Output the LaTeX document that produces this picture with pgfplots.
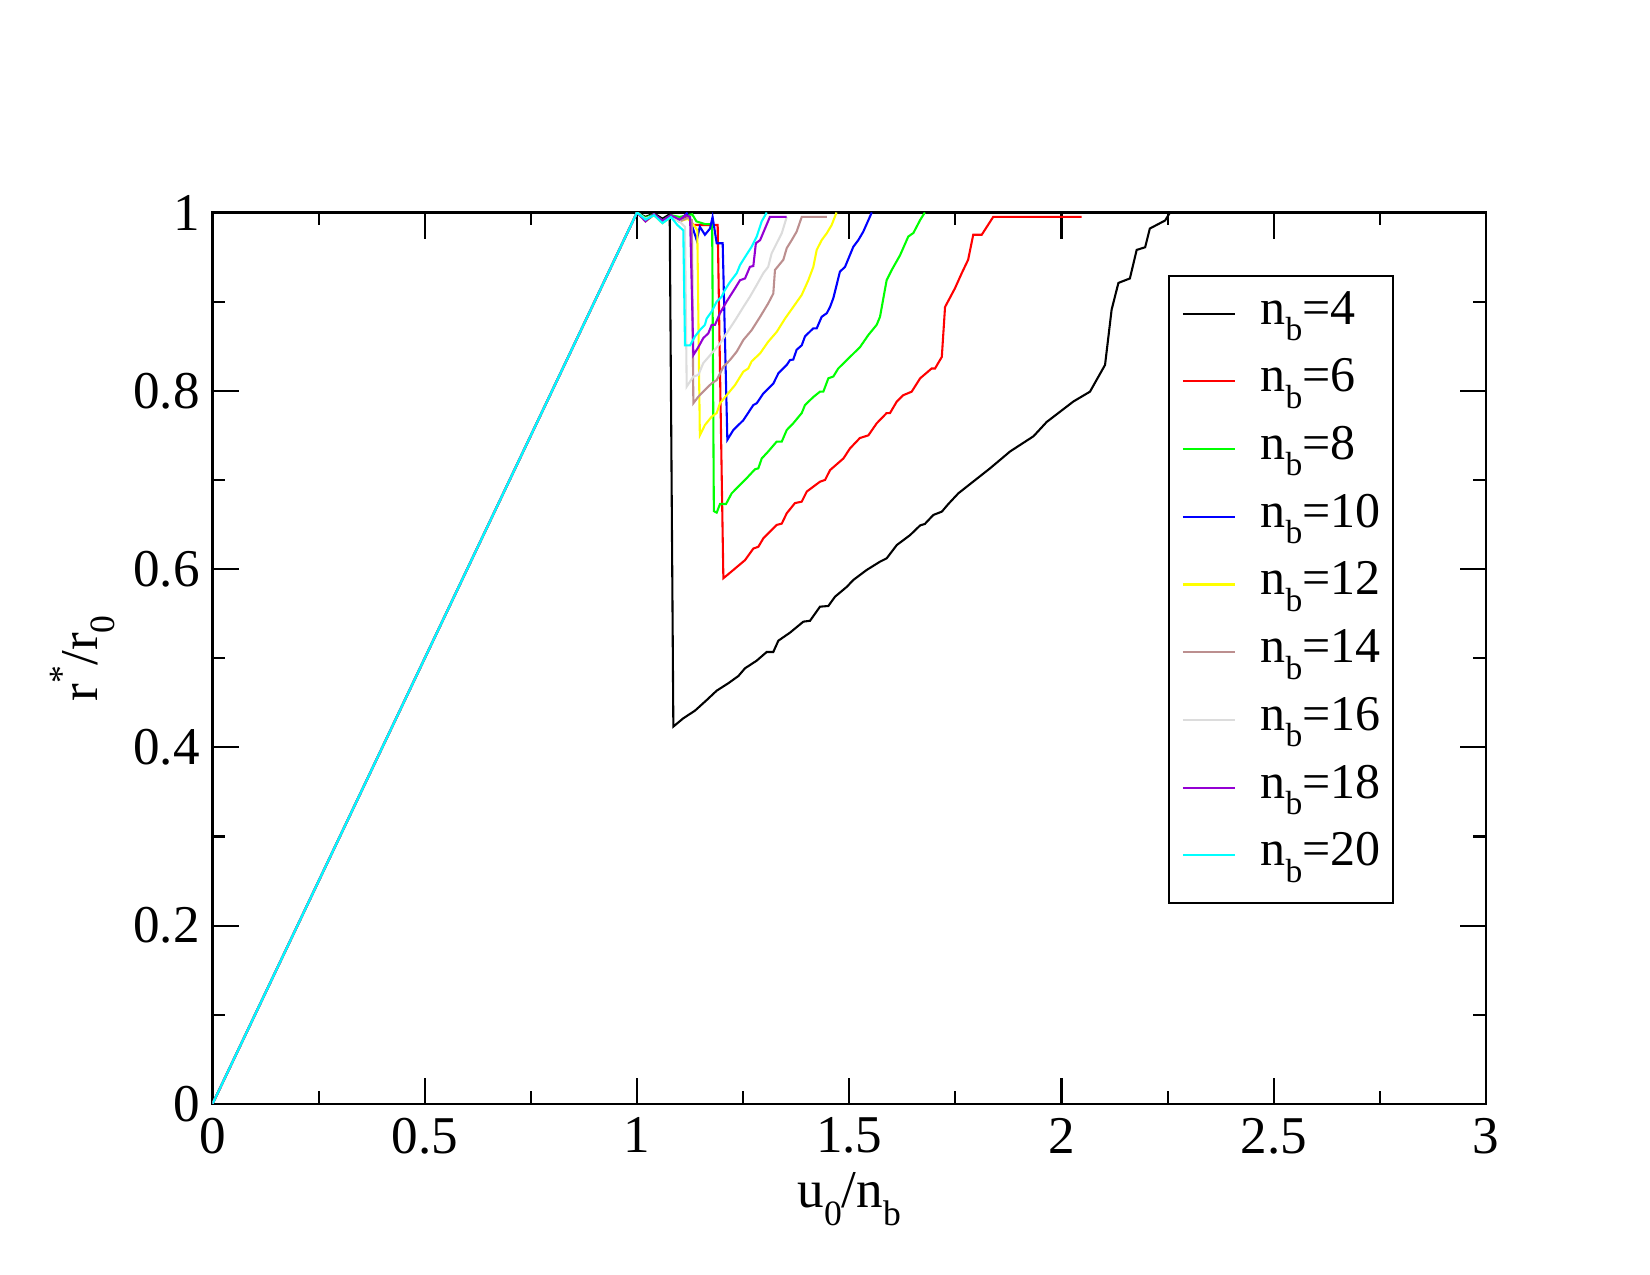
\documentclass[border=0pt]{standalone}
\usepackage{fontspec}
\setmainfont{Liberation Serif}
\usepackage{graphicx}
\usepackage{pgfplots}
\pgfplotsset{compat=1.18}

\definecolor{gred}{RGB}{255,0,0}
\definecolor{ggreen}{RGB}{0,255,0}
\definecolor{gblue}{RGB}{0,0,255}
\definecolor{gyellow}{RGB}{255,255,0}
\definecolor{gbrown}{RGB}{188,143,143}
\definecolor{ggrey}{RGB}{220,220,220}
\definecolor{gviolet}{RGB}{148,0,211}
\definecolor{gcyan}{RGB}{0,255,255}

% Grace-style lowered subscript / raised superscript
\newcommand{\sub}[1]{\raisebox{-0.33em}{\scalebox{0.67}{#1}}}
\newcommand{\sups}[1]{\raisebox{0.45em}{\scalebox{0.67}{#1}}}

\begin{document}
\begin{tikzpicture}
\path[use as bounding box] (0pt,0pt) rectangle (792pt,612pt);
\begin{axis}[
  at={(102pt,82.1pt)}, anchor=south west,
  scale only axis, width=611.3pt, height=427.9pt,
  xmin=0, xmax=3, ymin=0, ymax=1,
  xtick={0,0.5,1,1.5,2,2.5,3},
  ytick={0,0.2,0.4,0.6,0.8,1},
  minor x tick num=1, minor y tick num=1,
  major tick length=12.5pt, minor tick length=6.2pt,
  tick style={line width=1pt, black},
  axis line style={line width=1.2pt},
  /pgf/number format/assume math mode=true,
  ticklabel style={font=\fontsize{25.5}{30}\selectfont},
  xticklabel style={inner sep=0pt, yshift=-6.5pt},
  yticklabel style={inner sep=0pt, xshift=-6pt},
  label style={font=\fontsize{25.5}{30}\selectfont},
  xlabel={u\sub{0}/n\sub{b}},
  ylabel={r\sups{*}/r\sub{0}},
  xlabel style={at={(axis description cs:0.5,-0.1166)}, anchor=base},
  ylabel style={at={(axis description cs:-0.0906,0.5)}, anchor=base},
  every axis plot/.append style={line width=1pt},
  legend cell align=left,
  legend image code/.code={\draw[#1] (0pt,5pt) -- (25.2pt,5pt);},
  legend style={at={(0.7503,0.930)}, anchor=north west,
    draw=black, line width=1pt,
    font=\fontsize{24}{28}\selectfont,
    inner xsep=6.1pt, inner ysep=4.15pt,
    row sep=0pt, column sep=11.6pt,
    cells={anchor=base west},
    nodes={inner sep=0pt, text height=18.95pt, text depth=13.55pt}},
]
% n_b = 4
\addplot[black] coordinates {
(0,0) (0.25,0.25) (0.5,0.5) (0.75,0.75) (1,1) (1.02,0.995) (1.04,0.999) (1.06,0.993) (1.077,0.998)
(1.0856,0.4233) (1.109,0.4326) (1.1366,0.4412) (1.164,0.453) (1.1877,0.4636) (1.215,0.4719)
(1.2387,0.480) (1.2544,0.4887) (1.282,0.4973) (1.3055,0.507) (1.321,0.507) (1.333,0.5197)
(1.3604,0.5287) (1.3918,0.541) (1.4075,0.542) (1.431,0.5578) (1.4507,0.5586) (1.4664,0.569)
(1.494,0.580) (1.5096,0.5878) (1.541,0.599) (1.5724,0.6083) (1.588,0.612) (1.612,0.627)
(1.643,0.638) (1.667,0.649) (1.678,0.6506) (1.698,0.6607) (1.718,0.6644) (1.7334,0.673)
(1.757,0.685) (1.8316,0.713) (1.879,0.732) (1.934,0.749) (1.965,0.765) (2.028,0.788)
(2.067,0.799) (2.1025,0.829) (2.118,0.891) (2.134,0.921) (2.161,0.926) (2.177,0.958)
(2.197,0.961) (2.208,0.982) (2.244,0.991) (2.2556,1.0)
};
\addlegendentry{n\sub{b}=4}
% n_b = 6
\addplot[gred] coordinates {
(0,0) (0.25,0.25) (0.5,0.5) (0.75,0.75) (1,1) (1.02,0.993) (1.04,0.998) (1.06,0.99) (1.08,0.997)
(1.10,0.99) (1.12,0.995) (1.133,0.986) (1.19,0.986)
(1.2034,0.5897) (1.2269,0.599) (1.2544,0.610) (1.274,0.623) (1.2858,0.625) (1.2976,0.6345)
(1.329,0.6495) (1.341,0.651) (1.3527,0.6626) (1.372,0.674) (1.388,0.6756) (1.400,0.687)
(1.431,0.698) (1.443,0.700) (1.4547,0.711) (1.486,0.724) (1.502,0.7355) (1.525,0.747)
(1.545,0.750) (1.5646,0.7635) (1.588,0.775) (1.596,0.775) (1.612,0.788) (1.627,0.795)
(1.647,0.799) (1.667,0.814) (1.694,0.825) (1.702,0.825) (1.718,0.838) (1.7256,0.894)
(1.749,0.915) (1.765,0.932) (1.780,0.947) (1.792,0.975) (1.812,0.975) (1.839,0.995)
(2.0475,0.995)
};
\addlegendentry{n\sub{b}=6}
% n_b = 8
\addplot[ggreen] coordinates {
(0,0) (0.25,0.25) (0.5,0.5) (0.75,0.75) (1,1) (1.02,0.994) (1.04,0.998) (1.06,0.991) (1.08,0.997)
(1.10,0.995) (1.13,0.998) (1.14,0.99) (1.16,0.987) (1.177,0.987)
(1.181,0.665) (1.1877,0.6633) (1.1955,0.673) (1.2097,0.673) (1.223,0.685) (1.2387,0.6925)
(1.2584,0.702) (1.278,0.712) (1.2858,0.713) (1.2937,0.724) (1.3093,0.732) (1.329,0.743)
(1.341,0.743) (1.3527,0.756) (1.368,0.7635) (1.388,0.775) (1.3957,0.784) (1.4153,0.793)
(1.431,0.799) (1.4389,0.799) (1.4507,0.814) (1.4625,0.816) (1.474,0.825) (1.5018,0.838)
(1.5253,0.849) (1.545,0.8626) (1.5646,0.874) (1.5724,0.883) (1.588,0.924) (1.600,0.9355)
(1.6196,0.952) (1.639,0.973) (1.651,0.977) (1.667,0.9916) (1.678,1.0)
};
\addlegendentry{n\sub{b}=8}
% n_b = 10
\addplot[gblue] coordinates {
(0,0) (0.25,0.25) (0.5,0.5) (0.75,0.75) (1,1) (1.02,0.992) (1.04,0.998) (1.06,0.99) (1.08,0.996)
(1.10,0.99) (1.117,0.999) (1.129,0.986) (1.1406,0.969) (1.148,0.984) (1.16,0.975) (1.172,0.982)
(1.178,0.995) (1.1877,0.9655) (1.2018,0.9655)
(1.2128,0.745) (1.2269,0.756) (1.2505,0.767) (1.274,0.784) (1.282,0.786) (1.2976,0.797)
(1.321,0.808) (1.333,0.8196) (1.3527,0.829) (1.3604,0.8345) (1.368,0.835) (1.376,0.846)
(1.388,0.851) (1.3957,0.861) (1.415,0.870) (1.4233,0.870) (1.435,0.883) (1.447,0.887)
(1.4547,0.894) (1.4625,0.904) (1.478,0.9336) (1.490,0.939) (1.5096,0.9616) (1.5213,0.969)
(1.533,0.9785) (1.553,1.0)
};
\addlegendentry{n\sub{b}=10}
% n_b = 12
\addplot[gyellow] coordinates {
(0,0) (0.25,0.25) (0.5,0.5) (0.75,0.75) (1,1) (1.02,0.99) (1.04,0.997) (1.06,0.988) (1.08,0.995)
(1.10,0.99) (1.12,0.993) (1.135,0.985) (1.142,0.980)
(1.148,0.750) (1.160,0.7616) (1.176,0.771) (1.1877,0.775) (1.1955,0.786) (1.211,0.795)
(1.231,0.8065) (1.2505,0.8215) (1.262,0.825) (1.270,0.833) (1.290,0.842) (1.309,0.855)
(1.329,0.866) (1.3487,0.881) (1.368,0.894) (1.388,0.9075) (1.4035,0.924) (1.4153,0.939)
(1.4233,0.958) (1.435,0.969) (1.447,0.9767) (1.4586,0.986) (1.470,1.0)
};
\addlegendentry{n\sub{b}=12}
% n_b = 14
\addplot[gbrown] coordinates {
(0,0) (0.25,0.25) (0.5,0.5) (0.75,0.75) (1,1) (1.02,0.991) (1.04,0.998) (1.06,0.989) (1.08,0.996)
(1.10,0.99) (1.12,0.994) (1.129,0.9916)
(1.1327,0.786) (1.1445,0.7934) (1.160,0.801) (1.176,0.8084) (1.1877,0.812) (1.2034,0.827)
(1.219,0.8345) (1.235,0.844) (1.2505,0.857) (1.270,0.868) (1.290,0.883) (1.309,0.898)
(1.321,0.909) (1.325,0.9355) (1.3447,0.947) (1.3527,0.960) (1.3644,0.969) (1.376,0.9785)
(1.388,0.995) (1.447,0.995)
};
\addlegendentry{n\sub{b}=14}
% n_b = 16
\addplot[ggrey] coordinates {
(0,0) (0.25,0.25) (0.5,0.5) (0.75,0.75) (1,1) (1.02,0.993) (1.04,0.997) (1.06,0.99) (1.08,0.995)
(1.10,0.99) (1.113,0.984)
(1.117,0.8046) (1.1327,0.816) (1.1445,0.8177) (1.156,0.831) (1.176,0.842) (1.1955,0.853)
(1.211,0.8645) (1.231,0.879) (1.2505,0.894) (1.266,0.9055) (1.282,0.9187) (1.2976,0.932)
(1.309,0.939) (1.317,0.954) (1.329,0.9655) (1.341,0.9767) (1.3527,0.995)
};
\addlegendentry{n\sub{b}=16}
% n_b = 18
\addplot[gviolet] coordinates {
(0,0) (0.25,0.25) (0.5,0.5) (0.75,0.75) (1,1) (1.02,0.99) (1.04,0.998) (1.06,0.991) (1.08,0.997)
(1.10,0.992) (1.115,0.997) (1.125,0.995)
(1.1327,0.840) (1.1445,0.849) (1.156,0.859) (1.168,0.8645) (1.176,0.874) (1.1837,0.874)
(1.1955,0.887) (1.211,0.900) (1.231,0.915) (1.2426,0.924) (1.2544,0.926) (1.266,0.939)
(1.274,0.940) (1.280,0.9655) (1.290,0.969) (1.3015,0.982) (1.313,0.995) (1.3527,0.995)
};
\addlegendentry{n\sub{b}=18}
% n_b = 20
\addplot[gcyan] coordinates {
(0,0) (0.25,0.25) (0.5,0.5) (0.75,0.75) (1,1) (1.02,0.992) (1.04,0.997) (1.06,0.988) (1.08,0.995)
(1.095,0.986) (1.109,0.980)
(1.113,0.851) (1.125,0.851) (1.1366,0.861) (1.148,0.868) (1.160,0.874) (1.164,0.881)
(1.176,0.889) (1.1877,0.900) (1.1995,0.9055) (1.207,0.913) (1.219,0.922) (1.235,0.932)
(1.2426,0.941) (1.2544,0.950) (1.270,0.9616) (1.282,0.973) (1.2937,0.990) (1.3055,1.0)
};
\addlegendentry{n\sub{b}=20}
\end{axis}
\end{tikzpicture}
\end{document}
